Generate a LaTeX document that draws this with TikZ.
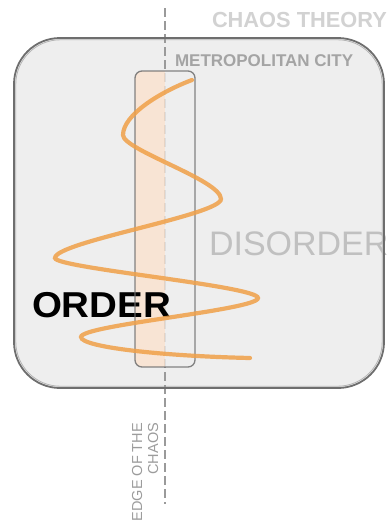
\documentclass[tikz,border=0pt]{standalone}
\usepackage{fontspec}
\setmainfont{Liberation Sans}
\definecolor{boxfill}{HTML}{EEEEEE}
\definecolor{boxline}{HTML}{6E6E6E}
\definecolor{boxinner}{HTML}{B4B4B4}
\definecolor{dashgray}{HTML}{9A9A9A}
\definecolor{peach}{HTML}{FBE2CE}
\definecolor{orangeline}{HTML}{F0A048}
\definecolor{titlegray}{HTML}{D2D2D2}
\definecolor{citygray}{HTML}{A4A4A4}
\definecolor{disgray}{HTML}{C0C0C0}
\definecolor{edgegray}{HTML}{9C9C9C}
\begin{document}
\begin{tikzpicture}[x=1pt,y=-1pt,
  lbl/.style={inner sep=0pt, outer sep=0pt},
  mainborder/.style={draw=boxline, line width=1.8pt, rounded corners=46pt},
  edgedash/.style={draw=dashgray, line width=2.8pt, dash pattern=on 9pt off 4pt},
  spiral/.style={draw=orangeline, line width=4.2pt, line cap=round, opacity=0.85}]
\useasboundingbox (0,0) rectangle (387,520);
% main box
\fill[boxfill, rounded corners=46pt] (14,38) rectangle (384,388);
\draw[boxinner, line width=0.8pt, rounded corners=44.5pt] (15.8,39.8) rectangle (382.2,386.2);
% dashed edge line
\coordinate (dtop) at (165,8);
\coordinate (dbot) at (165,504);
\draw[edgedash] (dtop) -- (dbot);
% DISORDER
\node[lbl, anchor=base west, text=disgray, font=\fontsize{34}{40}\selectfont] (disorder) at (209,255) {DISORDER};
\draw[mainborder] (14,38) rectangle (384,388);
% inner box fill
\begin{scope}
\clip[rounded corners=7pt] (135,71) rectangle (195,367);
\fill[peach, opacity=0.8] (135,71) rectangle (165,367);
\fill[boxfill, opacity=0.8] (165,71) rectangle (195,367);
\end{scope}
% ORDER
\node[lbl, anchor=base west, font=\fontsize{36}{42}\selectfont\bfseries, xscale=1.07] (order) at (32,317) {ORDER};
% inner box border
\draw[boxline, line width=1.3pt, rounded corners=7pt, opacity=0.85] (135,71) rectangle (195,367);
% labels
\node[lbl, anchor=base west, text=titlegray, font=\fontsize{21.8}{25}\selectfont\bfseries] (chaos) at (212,27) {CHAOS THEORY};
\node[lbl, anchor=base west, text=citygray, font=\fontsize{17}{20}\selectfont\bfseries] (city) at (175,66) {METROPOLITAN CITY};
\node[lbl, anchor=north east, rotate=90, align=right, text=edgegray, font=\fontsize{14.5}{16}\selectfont] (edge) at (132,423) {EDGE OF THE\\CHAOS};
% spiral
\coordinate (s0) at (192,80);
\coordinate (s1) at (123,135);
\coordinate (s2) at (221,199);
\coordinate (s3) at (55,258);
\coordinate (s4) at (258,298);
\coordinate (s5) at (81,337);
\coordinate (s6) at (250,358);
\draw[spiral] (s0) .. controls (160,92) and (123,115) .. (s1)
  .. controls (123,150) and (221,180) .. (s2)
  .. controls (221,215) and (55,242) .. (s3)
  .. controls (55,268) and (258,286) .. (s4)
  .. controls (258,310) and (81,325) .. (s5)
  .. controls (81,347) and (160,356) .. (s6);
\end{tikzpicture}
\end{document}
